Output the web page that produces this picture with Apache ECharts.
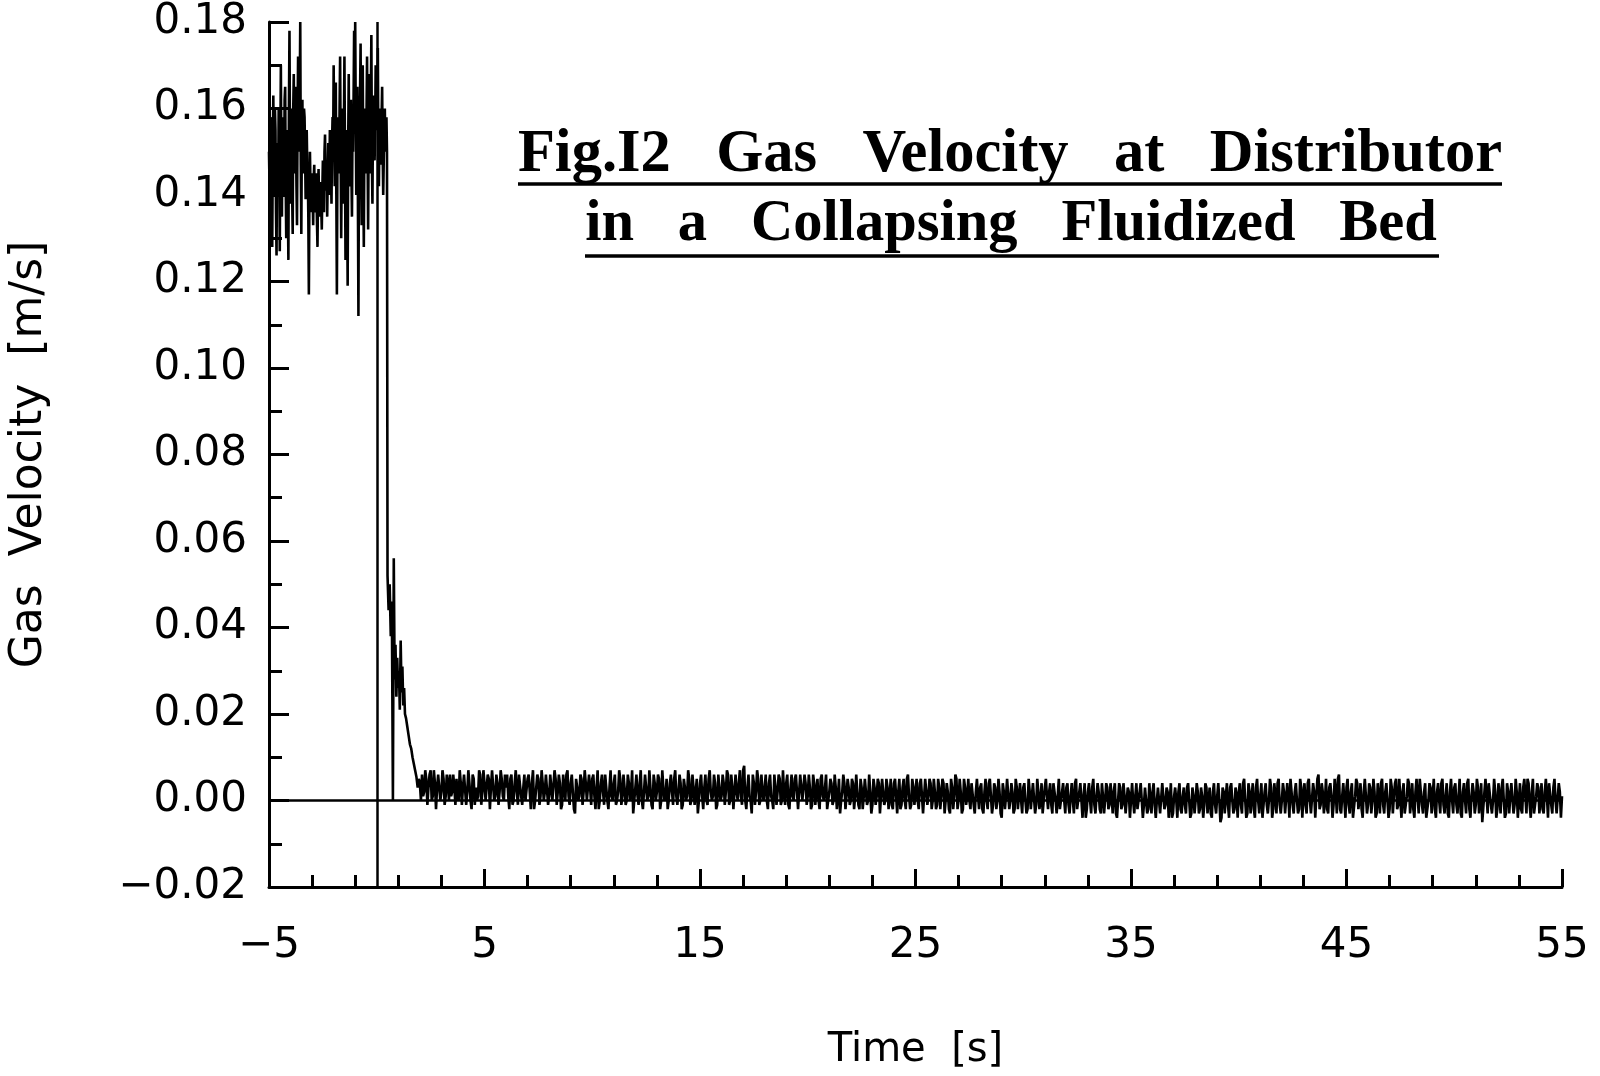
<!DOCTYPE html>
<html>
<head>
<meta charset="utf-8">
<script src="https://cdn.jsdelivr.net/npm/echarts@6/dist/echarts.min.js"></script>
<style>
html,body{margin:0;padding:0;background:#fff;}
#chart{width:1600px;height:1076px;}
</style>
</head>
<body>
<div id="chart"></div>
<script>
// ---- data ----
// pre-collapse (fluidized) gas velocity: samples at t = -5.00, -4.95, ... , 0.45 s
const preStart = -5.0;
const preStep = 0.05;
const preValues = [
  .150,.132,.158,.128,.163,.140,.155,.126,.148,.160,
  .127,.170,.135,.158,.142,.165,.130,.152,.125,.178,
  .138,.160,.131,.168,.145,.155,.133,.172,.150,.180,
  .131,.162,.148,.158,.139,.155,.145,.117,.150,.136,
  .145,.133,.147,.138,.142,.128,.146,.135,.140,.132,
  .148,.136,.154,.141,.135,.152,.144,.150,.138,.158,
  .170,.142,.166,.117,.158,.146,.172,.130,.160,.138,
  .172,.125,.155,.119,.168,.142,.162,.135,.150,.178,
  .180,.140,.165,.112,.158,.175,.133,.170,.128,.160,
  .145,.172,.132,.168,.150,.177,.138,.163,.148,.170,
  .155,.174,.142,.160,.147,.165,.140,.155,.150,.158
];
// in-between samples at t = -4.975, -4.925, ... , 0.475 s
const preMidValues = [
  .142,.155,.138,.150,.146,.160,.136,.152,.141,.149,
  .150,.145,.158,.140,.162,.143,.155,.138,.160,.152,
  .152,.140,.160,.148,.165,.142,.158,.150,.162,.147,
  .155,.145,.160,.150,.152,.147,.135,.140,.142,.139,
  .140,.144,.136,.145,.134,.141,.138,.143,.137,.141,
  .142,.150,.145,.148,.144,.140,.155,.146,.152,.150,
  .155,.150,.140,.148,.145,.160,.150,.148,.142,.155,
  .150,.145,.140,.152,.148,.158,.145,.156,.162,.155,
  .158,.152,.140,.150,.163,.148,.155,.145,.152,.148,
  .158,.150,.155,.145,.162,.148,.158,.150,.155,.160,
  .160,.150,.155,.152,.158,.150,.148,.160,.153,.150
];
// collapse transient
const dropTimes = [0.50,0.55,0.60,0.65,0.70,0.75,0.79,0.83,0.87,0.91,0.95,0.99,1.03,1.07,1.11,1.15,1.19,1.23,1.27,1.31,1.36,1.42,1.48,1.54,1.60,1.66,1.72,1.78,1.84,1.90,1.95];
const dropValues = [.052,.044,.050,.038,.046,.000,.056,.028,.036,.024,.033,.026,.030,.021,.037,.025,.031,.022,.026,.020,.019,.017,.015,.013,.012,.010,.0085,.007,.0055,.003,.005];
// settled bed: samples at t = 2.0, 2.1, ... , 55.0 s
const tailStart = 2.0;
const tailStep = 0.1;
const tailValues = [
  .004,.006,.002,.005,.003,.007,.001,.004,.003,.006,.002,.005,.001,.004,.006,.002,.003,.005,.000,.004,
  .003,.006,.002,.004,-.002,.005,.003,.001,.006,.002,.004,.000,.005,.003,.007,.001,.004,.002,.005,.000,
  .003,.001,.005,-.001,.004,.002,.006,.001,.003,.000,.005,.002,.004,-.002,.003,.005,.001,.004,.002,.006,
  .001,.003,.000,.005,.002,.004,-.001,.003,.006,.001,.004,.002,-.003,.003,.001,.005,.002,.004,.000,.003,
  .005,.001,.003,-.002,.004,.002,.006,.000,.003,.001,.004,-.001,.002,.005,.001,.003,.000,.004,.002,-.003,
  .003,.001,.004,.000,.002,.006,.001,.003,-.002,.004,.002,.005,.000,.003,.001,-.002,.004,.002,.005,.001,
  .002,.004,-.001,.003,.001,.005,.000,.003,.002,-.003,.004,.001,.003,.000,.005,.002,.001,.004,-.001,.003,
  .001,.004,.002,.006,.000,.003,-.002,.002,.004,.001,.007,.000,.003,.001,-.003,.004,.002,.005,.000,.002,
  .003,.000,.004,.001,-.002,.003,.002,.005,.000,.002,.004,-.001,.003,.001,.005,.002,-.002,.003,.000,.004,
  .001,.003,-.001,.004,.002,.000,.005,.001,.003,-.002,.002,.004,.000,.003,.001,-.003,.002,.004,.001,.003,
  .000,.004,.001,.002,-.002,.003,.001,.005,.000,.002,-.001,.003,.001,.004,-.003,.002,.000,.003,.001,-.001,
  .004,.001,.002,-.002,.003,.000,.005,.001,-.001,.003,.002,.000,.004,.001,-.003,.002,.001,.004,.000,.002,
  -.001,.003,.001,.004,.000,.002,-.003,.003,.001,.005,.000,.002,-.002,.003,.001,.000,.004,-.001,.002,.001,
  .003,-.002,.002,.000,.004,.001,-.001,.003,.000,.002,-.004,.002,.001,.005,.000,.002,-.002,.003,.001,.000,
  .003,.000,-.002,.002,.001,.004,-.001,.002,.000,-.003,.003,.001,.002,-.001,.004,.000,.001,-.002,.002,.000,
  .003,-.001,.001,.000,.004,-.002,.002,.000,.001,-.004,.002,.000,.003,-.001,.001,.002,-.003,.001,.000,.003,
  -.001,.001,.002,-.003,.000,.003,-.001,.001,.000,.002,-.004,.000,.001,-.002,.002,.000,-.001,.003,-.002,.000,
  .002,-.001,.000,.003,-.003,.001,-.001,.002,.000,-.004,.001,.000,.002,-.002,.001,-.001,.003,.000,-.003,.001,
  .000,.002,-.002,.001,-.001,.003,.000,-.003,.002,-.001,.001,.000,-.004,.002,.001,-.001,.003,.000,-.002,.001,
  .002,-.001,.004,.000,-.003,.002,.001,-.002,.003,.000,.001,-.004,.002,-.001,.000,.003,-.002,.001,.004,-.001,
  .000,.002,-.003,.001,.005,-.001,.002,.000,-.002,.003,.001,-.001,.004,.000,-.003,.002,.001,.006,-.001,.002,
  .000,-.002,.003,.001,-.001,.002,.005,-.002,.001,.000,.003,-.001,.002,-.004,.001,.004,.000,-.002,.002,.001,
  -.001,.003,.000,.002,-.003,.001,.004,-.001,.002,.000,-.002,.003,.001,.005,-.001,.000,.002,-.003,.001,.004,
  .000,-.002,.002,.001,.005,-.001,.002,-.004,.000,.003,.001,-.002,.002,.000,.004,-.001,.001,-.003,.002,.000,
  .003,-.001,.001,-.003,.002,.000,.004,-.002,.001,.002,-.001,.003,.000,-.005,.002,.001,.004,-.001,.000,.002,
  -.002,.001,.003,.000,-.003,.002,.001,.004,-.001,.002,.000,-.002,.003,.001,.005,-.001,.002,-.003,.001,.003,
  .000,-.002,.002,.001,.004,-.001,.003,.000,-.003,.002,.001
];
// in-between samples at t = 2.05, 2.15, ... , 54.95 s
const tailMidValues = [
  .000,.001,.007,-.001,.006,.000,.007,-.002,.006,.000,.007,-.001,.006,.000,.001,.006,-.001,.001,.007,-.001,
  .006,-.001,.007,.000,.006,-.001,.000,.007,-.001,.007,.000,.006,-.002,.007,.000,.006,-.001,.007,.001,.006,
  .006,-.002,.006,.000,.007,-.001,.006,-.001,.006,.000,.006,-.002,.007,.000,.006,-.001,.007,.000,.006,-.001,
  .006,.000,.007,-.001,.006,-.002,.006,.000,.007,-.001,.006,-.002,.005,.000,.006,-.001,.007,.000,.006,-.001,
  .006,-.002,.007,.000,.006,-.001,.006,-.002,.007,.000,.006,.000,.007,-.001,.006,-.001,.006,.000,.007,.000,
  .006,-.001,.007,-.002,.006,.000,.007,-.001,.006,.000,.006,-.002,.007,.000,.005,.000,.006,-.001,.007,-.001,
  .006,-.002,.005,.000,.007,-.001,.006,-.001,.005,.000,.006,-.002,.006,-.001,.007,.000,.006,-.002,.006,.000,
  .006,-.001,.007,-.001,.006,-.002,.006,.000,.007,-.001,.008,-.002,.006,.000,.006,-.001,.007,-.001,.006,.000,
  .006,-.002,.006,.000,.006,-.001,.006,-.001,.007,-.001,.006,-.002,.006,.000,.006,-.002,.006,.000,.006,-.001,
  .006,-.002,.006,-.001,.005,-.002,.006,.000,.006,-.002,.005,-.001,.006,-.002,.005,.000,.006,-.002,.005,-.001,
  .005,-.002,.006,-.001,.005,-.002,.005,-.001,.006,-.003,.005,-.001,.005,-.003,.005,-.001,.005,-.002,.005,-.002,
  .005,-.003,.005,-.001,.005,-.002,.006,-.002,.005,-.001,.005,-.002,.005,-.003,.005,-.001,.005,-.002,.005,-.002,
  .005,-.002,.005,-.003,.004,-.002,.005,-.002,.006,-.002,.005,-.003,.005,-.001,.005,-.002,.004,-.003,.005,-.002,
  .004,-.003,.005,-.002,.005,-.003,.004,-.002,.005,-.003,.004,-.002,.005,-.002,.004,-.003,.005,-.002,.004,-.003,
  .004,-.003,.005,-.002,.004,-.003,.005,-.002,.004,-.003,.005,-.002,.004,-.003,.004,-.003,.005,-.002,.004,-.003,
  .004,-.003,.004,-.003,.005,-.002,.004,-.004,.004,-.002,.004,-.003,.005,-.003,.004,-.002,.004,-.003,.004,-.002,
  .004,-.003,.004,-.004,.004,-.002,.004,-.003,.003,-.004,.004,-.003,.004,-.002,.004,-.004,.003,-.003,.004,-.003,
  .004,-.004,.003,-.003,.004,-.002,.003,-.004,.004,-.003,.003,-.004,.004,-.003,.003,-.003,.004,-.004,.003,-.003,
  .004,-.003,.003,-.004,.004,-.003,.003,-.004,.004,-.003,.004,-.005,.003,-.003,.004,-.004,.004,-.003,.003,-.004,
  .004,-.003,.005,-.004,.004,-.003,.004,-.004,.005,-.003,.004,-.004,.004,-.003,.005,-.004,.004,-.003,.005,-.003,
  .004,-.003,.004,-.004,.005,-.003,.004,-.003,.005,-.004,.004,-.003,.005,-.003,.004,-.004,.005,-.002,.004,-.003,
  .005,-.003,.004,-.004,.005,-.003,.006,-.003,.004,-.004,.005,-.003,.004,-.004,.005,-.002,.004,-.004,.005,-.003,
  .004,-.003,.005,-.004,.004,-.003,.005,-.003,.004,-.004,.005,-.003,.004,-.002,.005,-.004,.004,-.003,.005,-.003,
  .004,-.004,.005,-.003,.005,-.003,.004,-.004,.004,-.003,.005,-.004,.004,-.003,.005,-.003,.004,-.004,.005,-.003,
  .004,-.003,.005,-.004,.004,-.003,.005,-.004,.004,-.003,.005,-.003,.004,-.005,.005,-.003,.004,-.003,.005,-.004,
  .004,-.003,.005,-.004,.004,-.003,.004,-.003,.005,-.004,.004,-.003,.005,-.003,.004,-.004,.005,-.003,.004,-.003,
  .004,-.003,.005,-.004,.004,-.003,.005,-.003,.004,-.004
];
const valveCloseTime = 0;
const xMajorTicks = [-5, 5, 15, 25, 35, 45, 55];
const xMinorTicks = [-3,-1,1,3,7,9,11,13,17,19,21,23,27,29,31,33,37,39,41,43,47,49,51,53];
const titleLine1 = 'Fig.I2   Gas   Velocity   at   Distributor';
const titleLine2 = 'in   a   Collapsing   Fluidized   Bed';
const xName = 'Time  [s]';
const yName = 'Gas  Velocity  [m/s]';

// ---- build series (samples in time order) ----
const seriesData = [];
preValues.forEach((v, i) => {
  seriesData.push([+(preStart + i * preStep).toFixed(3), v]);
  if (i < preMidValues.length) seriesData.push([+(preStart + (i + 0.5) * preStep).toFixed(4), preMidValues[i]]);
});
dropTimes.forEach((t, i) => seriesData.push([t, dropValues[i]]));
tailValues.forEach((v, i) => {
  seriesData.push([+(tailStart + i * tailStep).toFixed(3), v]);
  if (i < tailMidValues.length) seriesData.push([+(tailStart + (i + 0.5) * tailStep).toFixed(3), tailMidValues[i]]);
});

const chart = echarts.init(document.getElementById('chart'), null, {renderer: 'canvas'});
const axisFont = 'DejaVu Sans';
const option = {
  backgroundColor: '#ffffff',
  animation: false,
  grid: {left: 267, right: 38, top: 22, bottom: 186, containLabel: false},
  xAxis: [{
    type: 'value', min: -5, max: 55, interval: 10,
    name: xName, nameLocation: 'middle', nameGap: 144,
    nameTextStyle: {fontFamily: axisFont, fontSize: 40, color: '#000'},
    axisLine: {show: true, onZero: false, lineStyle: {color: '#000', width: 3}},
    axisTick: {show: true, inside: true, length: 18, customValues: xMajorTicks, lineStyle: {color: '#000', width: 3}},
    axisLabel: {show: true, customValues: xMajorTicks, margin: 38, fontFamily: axisFont, fontSize: 42, color: '#000',
      formatter: v => String(v).replace('-', '\u2212')},
    splitLine: {show: false}
  }, {
    type: 'value', min: -5, max: 55, position: 'bottom',
    axisLine: {show: false, onZero: false},
    axisTick: {show: true, inside: true, length: 12, customValues: xMinorTicks, lineStyle: {color: '#000', width: 3}},
    axisLabel: {show: false},
    splitLine: {show: false}
  }],
  yAxis: {
    type: 'value', min: -0.02, max: 0.18, interval: 0.02,
    name: yName, nameLocation: 'middle', nameGap: 217, nameRotate: 90,
    nameTextStyle: {fontFamily: axisFont, fontSize: 44, color: '#000'},
    axisLine: {show: true, onZero: false, lineStyle: {color: '#000', width: 3}},
    axisTick: {show: true, inside: true, length: 20, lineStyle: {color: '#000', width: 3}},
    minorTick: {show: true, splitNumber: 2, length: 13, lineStyle: {color: '#000', width: 3}},
    axisLabel: {margin: 22, fontFamily: axisFont, fontSize: 42, color: '#000',
      formatter: v => v.toFixed(2).replace('-', '\u2212')},
    splitLine: {show: false},
    minorSplitLine: {show: false}
  },
  series: [{
    type: 'line',
    xAxisIndex: 0,
    data: seriesData,
    showSymbol: false,
    symbol: 'none',
    sampling: null,
    lineStyle: {color: '#000', width: 2.6},
    z: 3,
    markLine: {
      silent: true, symbol: 'none', animation: false,
      label: {show: false},
      lineStyle: {color: '#000', width: 2.5, type: 'solid'},
      data: [{xAxis: valveCloseTime}, {yAxis: 0}]
    }
  }],
  graphic: [
    {type: 'text', x: 1010, y: 155, style: {text: titleLine1, fontFamily: 'Liberation Serif', fontWeight: 'bold', fontSize: 60.5, fill: '#000', align: 'center', verticalAlign: 'middle'}},
    {type: 'text', x: 1011, y: 225, style: {text: titleLine2, fontFamily: 'Liberation Serif', fontWeight: 'bold', fontSize: 58.5, fill: '#000', align: 'center', verticalAlign: 'middle'}},
    {type: 'line', shape: {x1: 518, y1: 184, x2: 1502, y2: 184}, style: {stroke: '#000', lineWidth: 3.5}},
    {type: 'line', shape: {x1: 585, y1: 256, x2: 1439, y2: 256}, style: {stroke: '#000', lineWidth: 3.5}}
  ]
};
chart.setOption(option);
</script>
</body>
</html>
